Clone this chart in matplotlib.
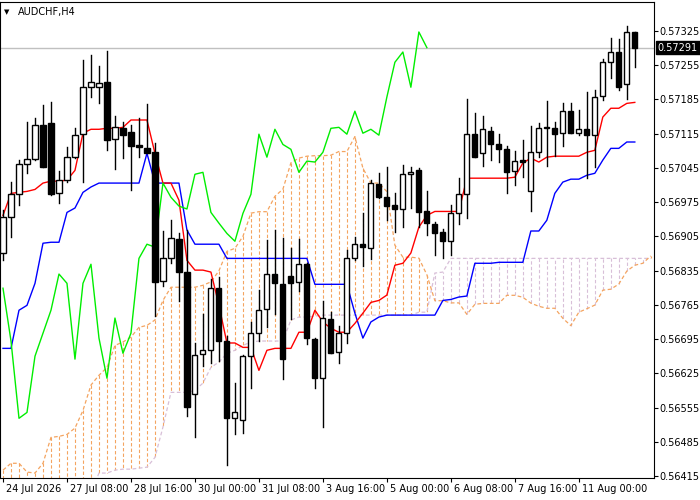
import matplotlib
matplotlib.use("Agg")
import matplotlib.pyplot as plt
import matplotlib.transforms as mtransforms
import numpy as np

SYMBOL = "AUDCHF,H4"
LAST_PRICE = 0.57291

# OHLC in 1e-5 price units
OPEN = [56871, 56944, 56991, 57053, 57063, 57132, 57136, 56993, 57020, 57067,
        57114, 57210, 57210, 57220, 57104, 57126, 57118, 57091, 57085, 57077,
        56813, 56860, 56899, 56832, 56582, 56664, 56672, 56799, 56691, 56533,
        56529, 56660, 56707, 56756, 56828, 56807, 56824, 56811, 56848, 56695,
        56615, 56736, 56668, 56707, 56860, 56889, 56881, 57012, 56985, 56969,
        56961, 57032, 57040, 56956, 56930, 56914, 56895, 56952, 56991, 57114,
        57075, 57120, 57093, 57083, 57038, 57061, 56997, 57077, 57126, 57126,
        57116, 57161, 57116, 57124, 57112, 57192, 57261, 57282, 57216, 57323]
HIGH = [56958, 57016, 57061, 57138, 57147, 57173, 57179, 57038, 57087, 57126,
        57265, 57275, 57253, 57284, 57151, 57138, 57132, 57147, 57175, 57096,
        56916, 56938, 56911, 56918, 56687, 56746, 56817, 56821, 56701, 56605,
        56662, 56729, 56795, 56897, 56918, 56901, 56881, 56899, 56850, 56697,
        56772, 56750, 56721, 56877, 56903, 56952, 57020, 57034, 57046, 56993,
        57051, 57046, 57044, 56997, 56934, 56920, 56969, 57024, 57185, 57157,
        57151, 57128, 57114, 57089, 57079, 57102, 57130, 57136, 57181, 57138,
        57177, 57177, 57163, 57200, 57204, 57267, 57310, 57308, 57335, 57323]
LOW = [56856, 56903, 56969, 57034, 57061, 57046, 56989, 56973, 57016, 57065,
       57016, 57190, 57177, 57081, 57042, 57065, 56999, 57067, 57075, 56742,
       56803, 56850, 56772, 56537, 56494, 56639, 56646, 56650, 56437, 56500,
       56502, 56594, 56691, 56719, 56746, 56613, 56736, 56793, 56685, 56594,
       56515, 56666, 56646, 56687, 56856, 56844, 56858, 56983, 56938, 56914,
       56924, 56963, 56924, 56907, 56866, 56860, 56866, 56930, 56942, 57067,
       57048, 57061, 57057, 56993, 57010, 57026, 56956, 57067, 57048, 57069,
       57089, 57116, 57112, 57024, 57046, 57183, 57228, 57204, 57185, 57251]
CLOSE = [56944, 56991, 57053, 57063, 57132, 57046, 56991, 57020, 57067, 57112,
         57210, 57220, 57218, 57102, 57128, 57112, 57089, 57087, 57075, 56811,
         56860, 56901, 56832, 56556, 56662, 56672, 56799, 56691, 56533, 56545,
         56660, 56707, 56754, 56828, 56809, 56654, 56809, 56848, 56697, 56615,
         56738, 56666, 56707, 56860, 56889, 56883, 57014, 56985, 56967, 56961,
         57032, 57036, 56954, 56932, 56911, 56895, 56952, 56991, 57114, 57067,
         57124, 57093, 57083, 57036, 57059, 57057, 57077, 57126, 57128, 57114,
         57161, 57116, 57124, 57112, 57190, 57261, 57282, 57210, 57323, 57291]

TENKAN = [56948, 56993, 56995, 56997, 57001, 57014, 57018, 57018, 57020, 57040,
          57116, 57124, 57124, 57126, 57126, 57128, 57143, 57143, 57143, 57075,
          57014, 57014, 56979, 56856, 56836, 56836, 56832, 56764, 56687, 56687,
          56678, 56678, 56631, 56672, 56676, 56676, 56676, 56709, 56709, 56754,
          56730, 56717, 56709, 56709, 56727, 56748, 56770, 56774, 56785, 56846,
          56850, 56871, 56924, 56948, 56956, 56956, 56956, 56956, 57024, 57024,
          57024, 57024, 57024, 57024, 57026, 57055, 57065, 57057, 57067, 57069,
          57069, 57069, 57069, 57077, 57081, 57149, 57167, 57167, 57177, 57179]
KIJUN = [56676, 56676, 56754, 56764, 56809, 56891, 56893, 56893, 56954, 56963,
         56995, 57006, 57014, 57014, 57014, 57014, 57014, 57014, 57075, 57014,
         57014, 57014, 57014, 56918, 56889, 56889, 56889, 56889, 56860, 56860,
         56860, 56860, 56860, 56860, 56860, 56860, 56860, 56860, 56860, 56807,
         56807, 56807, 56807, 56807, 56748, 56697, 56730, 56740, 56744, 56744,
         56744, 56744, 56744, 56744, 56744, 56774, 56776, 56781, 56783, 56850,
         56850, 56850, 56852, 56852, 56852, 56852, 56916, 56916, 56938, 56993,
         57016, 57022, 57022, 57030, 57034, 57061, 57085, 57085, 57098, 57098]
# Senkou A before the first bar's (tenkan+kijun)/2 reaches the chart
SENKOU_A_EARLY = [56427, 56441, 56441, 56423, 56421, 56441, 56494, 56496, 56500, 56513,
                  56549, 56601, 56621, 56637, 56682, 56689, 56699, 56719, 56723, 56734,
                  56774, 56801, 56801, 56801, 56801, 56805]
SENKOU_B = [56380] * 12 + [56421, 56421, 56427, 56429, 56429, 56431, 56433, 56453,
            56515, 56586, 56586, 56586, 56590, 56605, 56637, 56648, 56666, 56672,
            56682, 56689, 56691, 56691, 56691, 56691, 56734, 56740, 56740, 56742] \
    + [56744] * 12 + [56750, 56750, 56830, 56832] + [56860] * 26

X_LABELS = ["24 Jul 2026", "27 Jul 08:00", "28 Jul 16:00", "30 Jul 00:00", "31 Jul 08:00",
            "3 Aug 16:00", "5 Aug 00:00", "6 Aug 08:00", "7 Aug 16:00", "11 Aug 00:00"]
X_LABEL_POS = [0, 8, 16, 24, 32, 40, 48, 56, 64, 72]

SHIFT = 26
s = 1e-5
o, h, l, c = (np.array(a) * s for a in (OPEN, HIGH, LOW, CLOSE))
tenkan = np.array(TENKAN) * s
kijun = np.array(KIJUN) * s
n = len(c)
nx = n + 2
span_a = np.concatenate([np.array(SENKOU_A_EARLY) * s,
                         (tenkan[:nx - SHIFT] + kijun[:nx - SHIFT]) / 2])
span_b = np.array(SENKOU_B) * s
xi = np.arange(n)
xc = np.arange(nx)

fig = plt.figure(figsize=(7, 5), dpi=100)
ax = fig.add_axes([0.0, 0.044, 0.934, 0.952])

# cloud: vertical hatch lines + edges
for i in xc:
    col = "sandybrown" if span_a[i] >= span_b[i] else "thistle"
    ax.plot([i, i], [span_a[i], span_b[i]], color=col, lw=0.8, ls=(0, (3, 2)), zorder=1)
ax.plot(xc, span_b, color="thistle", lw=0.9, ls=(0, (3, 2)), zorder=1)
ax.plot(xc, span_a, color="sandybrown", lw=0.9, ls=(0, (3, 2)), zorder=1)

ax.plot(xi, kijun, color="#0000ff", lw=1, zorder=2)
ax.plot(xi, tenkan, color="#ff0000", lw=1, zorder=2)
ax.plot(xi[:n - SHIFT], c[SHIFT:], color="#00ee00", lw=1, zorder=2)

ax.axhline(LAST_PRICE, color="#c0c0c0", lw=1, zorder=0)

w = 0.32
for i in xi:
    bull = c[i] >= o[i]
    ax.plot([i, i], [l[i], h[i]], color="black", lw=1, zorder=3)
    lo, hi = min(o[i], c[i]), max(o[i], c[i])
    ax.add_patch(plt.Rectangle((i - w, lo), 2 * w, max(hi - lo, 2e-6),
                               facecolor="white" if bull else "black",
                               edgecolor="black", lw=1, zorder=4))

ax.set_xlim(-0.375, 81.375)
ax.set_ylim(0.564109, 0.573843)

yt = 0.56415 + 0.0007 * np.arange(14)
ax.yaxis.tick_right()
ax.set_yticks(yt)
ax.set_yticklabels([f"{v:.5f}" for v in yt])
ax.set_xticks(X_LABEL_POS)
ax.set_xticklabels(X_LABELS, ha="left")
ax.tick_params(axis="both", labelsize=7, length=3, width=0.8, colors="black", pad=1)
offset = mtransforms.ScaledTranslation(2 / 72, 0, fig.dpi_scale_trans)
for t in ax.get_xticklabels():
    t.set_transform(t.get_transform() + offset)
for sp in ax.spines.values():
    sp.set_color("black")
    sp.set_linewidth(0.8)

trans = mtransforms.blended_transform_factory(ax.transAxes, ax.transData)
ax.text(1.006, LAST_PRICE, f"{LAST_PRICE:.5f}", transform=trans, fontsize=7,
        color="white", va="center", ha="left",
        bbox=dict(facecolor="black", edgecolor="black", pad=1.2))

ax.text(0.006, 0.985, "\u25BC", transform=ax.transAxes, fontsize=5, va="top")
ax.text(0.028, 0.99, SYMBOL, transform=ax.transAxes, fontsize=7, va="top")

fig.savefig("out.png", facecolor="white")
